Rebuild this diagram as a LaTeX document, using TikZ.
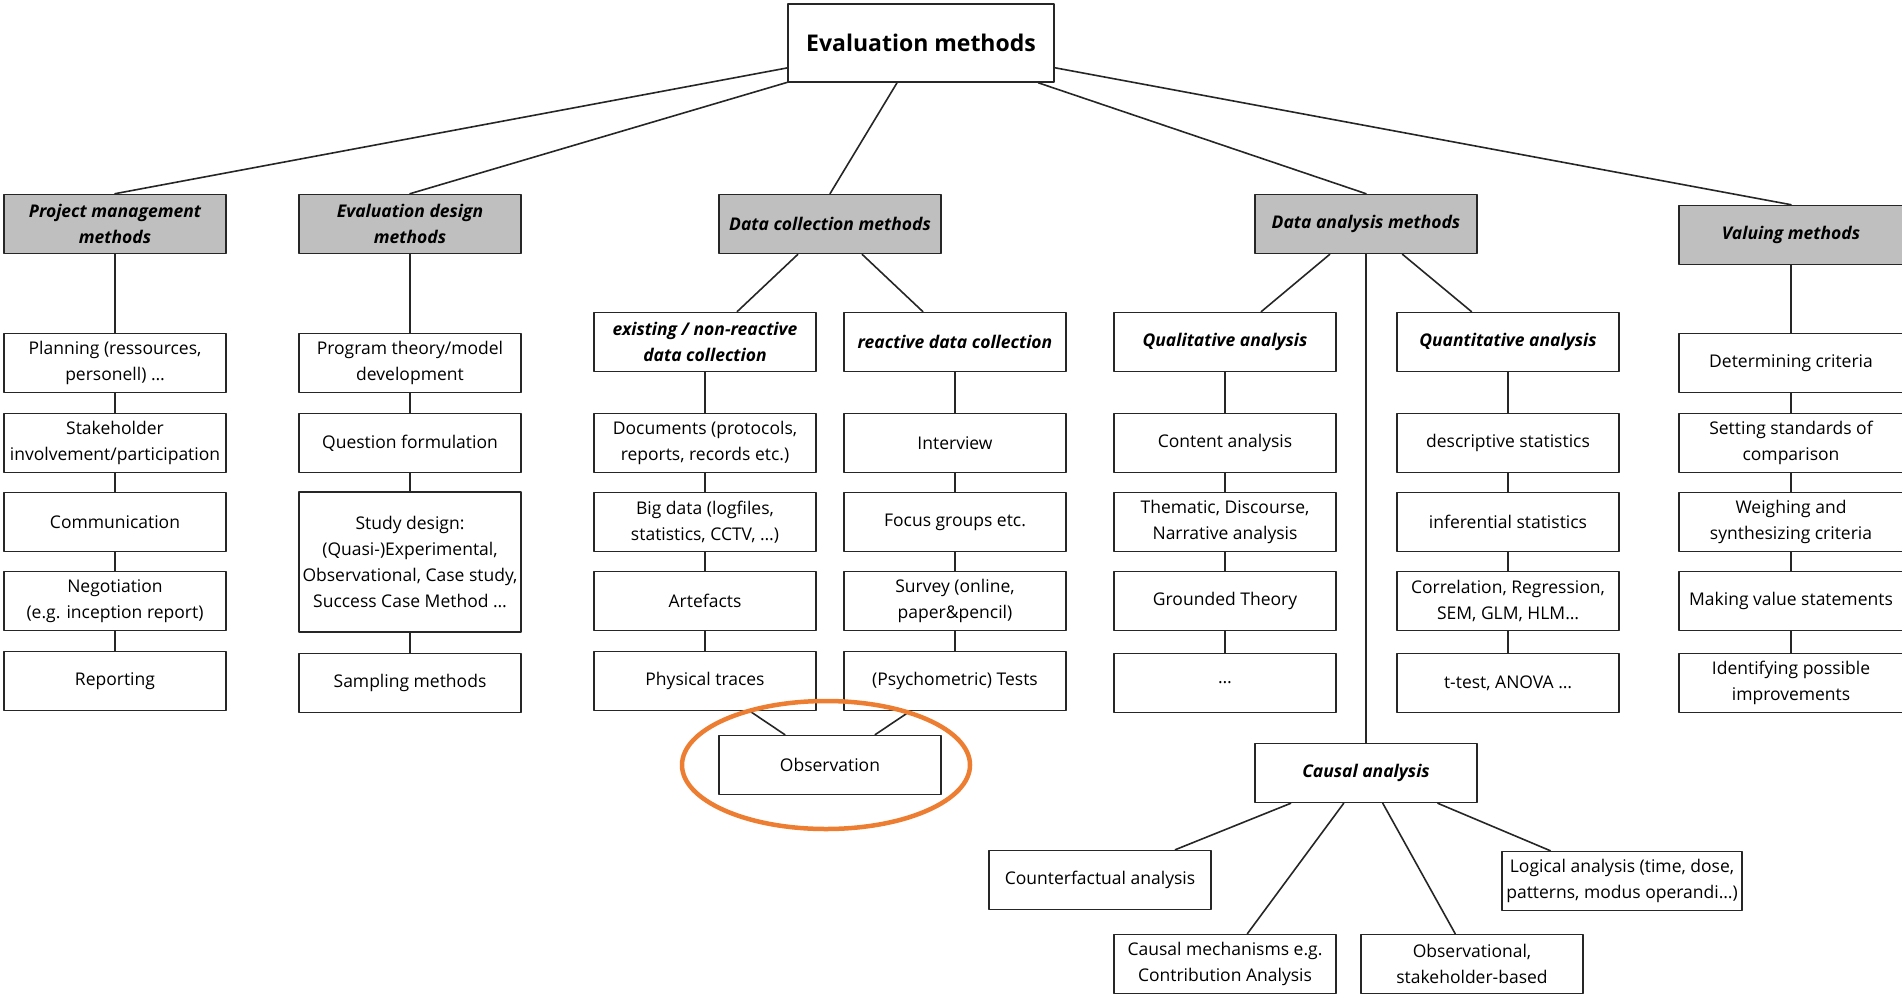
\documentclass[tikz,border=0pt]{standalone}
\usepackage{fontspec}
\setmainfont{Open Sans}
\definecolor{hlorange}{HTML}{ED7D31}
\begin{document}
\begin{tikzpicture}[x=1pt,y=-1pt,line join=round,line cap=round,
    font=\fontsize{17.5}{26}\selectfont,
    box/.style={draw=black!85,line width=1.6pt,fill=white,minimum width=222pt,minimum height=59pt,align=center,inner sep=1pt},
    cat/.style={box,fill=gray!50,font=\fontsize{17.5}{26}\selectfont\bfseries\itshape},
    sub/.style={box,font=\fontsize{17.5}{26}\selectfont\bfseries\itshape},
    link/.style={draw=black!85,line width=1.6pt}]
    \useasboundingbox (0,0) rectangle (1902,998);
    \clip (0,0) rectangle (1902,998);
    % root and main branches
    \node[box,minimum width=266pt,minimum height=78pt,font=\fontsize{23}{28}\selectfont\bfseries] (eval) at (921,43) {Evaluation methods};
    \node[cat] (pm) at (115,224) {Project management\\methods};
    \node[cat] (ed) at (410,224) {Evaluation design\\methods};
    \node[cat] (dc) at (830,224) {Data collection methods};
    \node[cat] (da) at (1366,224) {Data analysis methods};
    \node[cat,minimum width=224pt] (va) at (1791,235) {Valuing methods};
    \foreach \c in {pm,ed,dc,da,va} \draw[link] (eval) -- (\c.north);
    % project management
    \node[box] (pm1) at (115,363) {Planning (ressources,\\personell) …};
    \node[box] (pm2) at (115,443) {Stakeholder\\involvement/participation};
    \node[box] (pm3) at (115,522) {Communication};
    \node[box] (pm4) at (115,601) {Negotiation\\(e.g. inception report)};
    \node[box] (pm5) at (115,681) {Reporting};
    % evaluation design
    \node[box] (ed1) at (410,363) {Program theory/model\\development};
    \node[box] (ed2) at (410,443) {Question formulation};
    \node[box,minimum height=140pt] (ed3) at (410,562) {Study design:\\(Quasi-)Experimental,\\Observational, Case study,\\Success Case Method …};
    \node[box] (ed4) at (410,683) {Sampling methods};
    % data collection
    \node[sub] (ex) at (705,342) {existing / non-reactive\\data collection};
    \node[sub] (re) at (955,342) {reactive data collection};
    \node[box] (ex1) at (705,443) {Documents (protocols,\\reports, records etc.)};
    \node[box] (ex2) at (705,522) {Big data (logfiles,\\statistics, CCTV, …)};
    \node[box] (ex3) at (705,601) {Artefacts};
    \node[box] (ex4) at (705,681) {Physical traces};
    \node[box] (re1) at (955,443) {Interview};
    \node[box] (re2) at (955,522) {Focus groups etc.};
    \node[box] (re3) at (955,601) {Survey (online,\\paper\&pencil)};
    \node[box] (re4) at (955,681) {(Psychometric) Tests};
    \node[box] (observ) at (830,765) {Observation};
    % data analysis
    \node[sub] (ql) at (1225,342) {Qualitative analysis};
    \node[sub] (qn) at (1508,342) {Quantitative analysis};
    \node[box] (ql1) at (1225,443) {Content analysis};
    \node[box] (ql2) at (1225,522) {Thematic, Discourse,\\Narrative analysis};
    \node[box] (ql3) at (1225,601) {Grounded Theory};
    \node[box] (ql4) at (1225,683) {…};
    \node[box] (qn1) at (1508,443) {descriptive statistics};
    \node[box] (qn2) at (1508,522) {inferential statistics};
    \node[box] (qn3) at (1508,601) {Correlation, Regression,\\SEM, GLM, HLM…};
    \node[box] (qn4) at (1508,683) {t-test, ANOVA …};
    \node[sub] (ca) at (1366,773) {Causal analysis};
    \node[box] (ca1) at (1100,880) {Counterfactual analysis};
    \node[box] (ca2) at (1225,964) {Causal mechanisms e.g.\\Contribution Analysis};
    \node[box] (ca3) at (1472,964) {Observational,\\stakeholder-based};
    \node[box,minimum width=240pt] (ca4) at (1622,881) {Logical analysis (time, dose,\\patterns, modus operandi…)};
    % valuing
    \node[box,minimum width=224pt] (va1) at (1791,363) {Determining criteria};
    \node[box,minimum width=224pt] (va2) at (1791,443) {Setting standards of\\comparison};
    \node[box,minimum width=224pt] (va3) at (1791,522) {Weighing and\\synthesizing criteria};
    \node[box,minimum width=224pt] (va4) at (1791,601) {Making value statements};
    \node[box,minimum width=224pt] (va5) at (1791,683) {Identifying possible\\improvements};
    % connectors
    \foreach \a/\b in {pm/pm1,pm1/pm2,pm2/pm3,pm3/pm4,pm4/pm5,
        ed/ed1,ed1/ed2,ed2/ed3,ed3/ed4,
        dc/ex,dc/re,ex/ex1,ex1/ex2,ex2/ex3,ex3/ex4,re/re1,re1/re2,re2/re3,re3/re4,ex4/observ,re4/observ,
        da/ql,da/qn,ql/ql1,ql1/ql2,ql2/ql3,ql3/ql4,qn/qn1,qn1/qn2,qn2/qn3,qn3/qn4,
        da/ca,ca/ca1,ca/ca2,ca/ca3,ca/ca4,
        va/va1,va1/va2,va2/va3,va3/va4,va4/va5}
        \draw[link] (\a) -- (\b);
    % highlight
    \draw[hlorange,line width=4.5pt] (826,765) ellipse [x radius=144,y radius=64];
\end{tikzpicture}
\end{document}
